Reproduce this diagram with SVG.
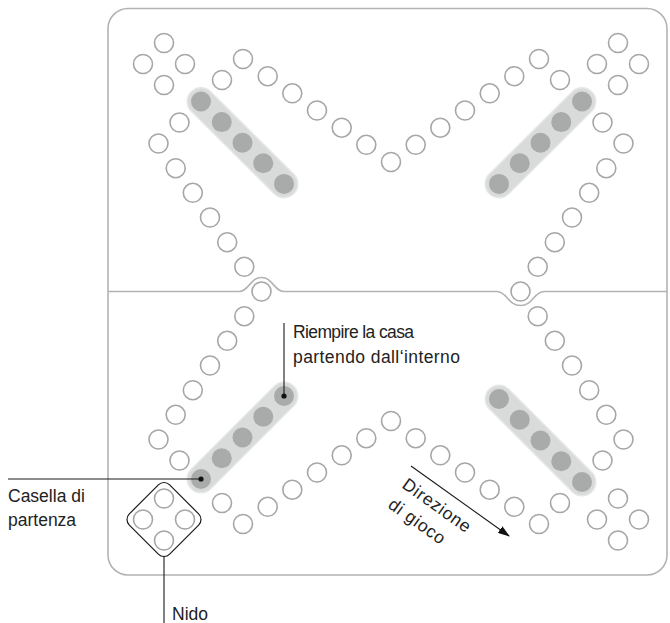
<svg xmlns="http://www.w3.org/2000/svg" width="670" height="623" viewBox="0 0 670 623">
  <style>
    .board { fill: #fff; stroke: #b3b3b3; stroke-width: 1.6; }
    .divider { fill: none; stroke: #b3b3b3; stroke-width: 1.6; }
    .hole { fill: #fff; stroke: #a6a6a6; stroke-width: 1.6; }
    .home-bg-edge { stroke: #e6e7e7; stroke-width: 29; stroke-linecap: round; }
    .home-bg { stroke: #d9dada; stroke-width: 26; stroke-linecap: round; }
    .home { fill: #a9aaaa; }
    .nest-frame { fill: none; stroke: #1a1a1a; stroke-width: 1.2; }
    .leader { fill: none; stroke: #1a1a1a; stroke-width: 1.1; }
    .dot { fill: #111; }
    .label { font-family: "Liberation Sans", Arial, sans-serif; font-size: 17.5px; fill: #222; }
    .turned { letter-spacing: 0.7px; }
  </style>
  <defs>
    <marker id="arrowhead" markerUnits="userSpaceOnUse" markerWidth="12" markerHeight="8" refX="11" refY="4" orient="auto">
      <path d="M0,0 L12,4 L0,8 z" fill="#111"/>
    </marker>
  </defs>

  <!-- board outline and the fold line with its two bumps -->
  <g id="board">
    <rect class="board" x="108" y="8.5" width="559" height="566.5" rx="20"/>
    <path class="divider" d="M108,291.5 H239 C249,291.5 250,277.5 261.5,277.5 C273,277.5 274,291.5 284,291.5 H497 C507,291.5 508,305.5 520.5,305.5 C533,305.5 534,291.5 544,291.5 H667"/>
  </g>

  <!-- home rows (filled from the inside) -->
  <g id="home-top-left">
    <line class="home-bg-edge" x1="201" y1="101.5" x2="284" y2="183.9"/>
    <line class="home-bg" x1="201" y1="101.5" x2="284" y2="183.9"/>
    <circle class="home" cx="201" cy="101.5" r="10"/>
    <circle class="home" cx="221.75" cy="122.1" r="10"/>
    <circle class="home" cx="242.5" cy="142.7" r="10"/>
    <circle class="home" cx="263.25" cy="163.3" r="10"/>
    <circle class="home" cx="284" cy="183.9" r="10"/>
  </g>
  <g id="home-top-right">
    <line class="home-bg-edge" x1="582" y1="101.5" x2="499" y2="183.9"/>
    <line class="home-bg" x1="582" y1="101.5" x2="499" y2="183.9"/>
    <circle class="home" cx="582" cy="101.5" r="10"/>
    <circle class="home" cx="561.25" cy="122.1" r="10"/>
    <circle class="home" cx="540.5" cy="142.7" r="10"/>
    <circle class="home" cx="519.75" cy="163.3" r="10"/>
    <circle class="home" cx="499" cy="183.9" r="10"/>
  </g>
  <g id="home-bottom-right">
    <line class="home-bg-edge" x1="499" y1="399" x2="582" y2="482"/>
    <line class="home-bg" x1="499" y1="399" x2="582" y2="482"/>
    <circle class="home" cx="499" cy="399" r="10"/>
    <circle class="home" cx="519.75" cy="419.75" r="10"/>
    <circle class="home" cx="540.5" cy="440.5" r="10"/>
    <circle class="home" cx="561.25" cy="461.25" r="10"/>
    <circle class="home" cx="582" cy="482" r="10"/>
  </g>
  <g id="home-bottom-left">
    <line class="home-bg-edge" x1="284" y1="396" x2="201" y2="479"/>
    <line class="home-bg" x1="284" y1="396" x2="201" y2="479"/>
    <circle class="home" cx="284" cy="396" r="10"/>
    <circle class="home" cx="263.25" cy="416.75" r="10"/>
    <circle class="home" cx="242.5" cy="437.5" r="10"/>
    <circle class="home" cx="221.75" cy="458.25" r="10"/>
    <circle class="home" cx="201" cy="479" r="10"/>
  </g>

  <!-- nests -->
  <g id="nest-top-left">
    <circle class="hole" cx="164" cy="43" r="9.5"/>
    <circle class="hole" cx="143" cy="64" r="9.5"/>
    <circle class="hole" cx="185" cy="64" r="9.5"/>
    <circle class="hole" cx="164" cy="85" r="9.5"/>
  </g>
  <g id="nest-top-right">
    <circle class="hole" cx="618" cy="43" r="9.5"/>
    <circle class="hole" cx="597" cy="64" r="9.5"/>
    <circle class="hole" cx="639" cy="64" r="9.5"/>
    <circle class="hole" cx="618" cy="85" r="9.5"/>
  </g>
  <g id="nest-bottom-left">
    <rect class="nest-frame" x="-28.5" y="-28.5" width="57" height="57" rx="8" transform="translate(164,519.5) rotate(45)"/>
    <circle class="hole" cx="164" cy="498.5" r="9.5"/>
    <circle class="hole" cx="143" cy="519.5" r="9.5"/>
    <circle class="hole" cx="185" cy="519.5" r="9.5"/>
    <circle class="hole" cx="164" cy="540.5" r="9.5"/>
  </g>
  <g id="nest-bottom-right">
    <circle class="hole" cx="618" cy="498.5" r="9.5"/>
    <circle class="hole" cx="597" cy="519.5" r="9.5"/>
    <circle class="hole" cx="639" cy="519.5" r="9.5"/>
    <circle class="hole" cx="618" cy="540.5" r="9.5"/>
  </g>

  <!-- running track -->
  <g id="track">
    <!-- top edge -->
    <circle class="hole" cx="222" cy="80" r="9.5"/>
    <circle class="hole" cx="243" cy="59" r="9.5"/>
    <circle class="hole" cx="267.7" cy="76.2" r="9.5"/>
    <circle class="hole" cx="292.3" cy="93.3" r="9.5"/>
    <circle class="hole" cx="317" cy="110.5" r="9.5"/>
    <circle class="hole" cx="341.7" cy="127.7" r="9.5"/>
    <circle class="hole" cx="366.3" cy="144.8" r="9.5"/>
    <circle class="hole" cx="391" cy="162" r="9.5"/>
    <circle class="hole" cx="415.7" cy="144.8" r="9.5"/>
    <circle class="hole" cx="440.3" cy="127.7" r="9.5"/>
    <circle class="hole" cx="465" cy="110.5" r="9.5"/>
    <circle class="hole" cx="489.7" cy="93.3" r="9.5"/>
    <circle class="hole" cx="514.3" cy="76.2" r="9.5"/>
    <circle class="hole" cx="539" cy="59" r="9.5"/>
    <circle class="hole" cx="560" cy="80" r="9.5"/>
    <!-- right edge -->
    <circle class="hole" cx="602.5" cy="122.5" r="9.5"/>
    <circle class="hole" cx="623.5" cy="143.5" r="9.5"/>
    <circle class="hole" cx="606.3" cy="168.2" r="9.5"/>
    <circle class="hole" cx="589.2" cy="192.8" r="9.5"/>
    <circle class="hole" cx="572" cy="217.5" r="9.5"/>
    <circle class="hole" cx="554.8" cy="242.2" r="9.5"/>
    <circle class="hole" cx="537.7" cy="266.8" r="9.5"/>
    <circle class="hole" cx="520.5" cy="291.5" r="9.5"/>
    <circle class="hole" cx="537.7" cy="316.2" r="9.5"/>
    <circle class="hole" cx="554.8" cy="340.8" r="9.5"/>
    <circle class="hole" cx="572" cy="365.5" r="9.5"/>
    <circle class="hole" cx="589.2" cy="390.2" r="9.5"/>
    <circle class="hole" cx="606.3" cy="414.8" r="9.5"/>
    <circle class="hole" cx="623.5" cy="439.5" r="9.5"/>
    <circle class="hole" cx="602.5" cy="460.5" r="9.5"/>
    <!-- bottom edge -->
    <circle class="hole" cx="560" cy="503" r="9.5"/>
    <circle class="hole" cx="539" cy="524" r="9.5"/>
    <circle class="hole" cx="514.3" cy="506.8" r="9.5"/>
    <circle class="hole" cx="489.7" cy="489.7" r="9.5"/>
    <circle class="hole" cx="465" cy="472.5" r="9.5"/>
    <circle class="hole" cx="440.3" cy="455.3" r="9.5"/>
    <circle class="hole" cx="415.7" cy="438.2" r="9.5"/>
    <circle class="hole" cx="391" cy="421" r="9.5"/>
    <circle class="hole" cx="366.3" cy="438.2" r="9.5"/>
    <circle class="hole" cx="341.7" cy="455.3" r="9.5"/>
    <circle class="hole" cx="317" cy="472.5" r="9.5"/>
    <circle class="hole" cx="292.3" cy="489.7" r="9.5"/>
    <circle class="hole" cx="267.7" cy="506.8" r="9.5"/>
    <circle class="hole" cx="243" cy="524" r="9.5"/>
    <circle class="hole" cx="222" cy="503" r="9.5"/>
    <!-- left edge -->
    <circle class="hole" cx="179.5" cy="460.5" r="9.5"/>
    <circle class="hole" cx="158.5" cy="439.5" r="9.5"/>
    <circle class="hole" cx="175.7" cy="414.8" r="9.5"/>
    <circle class="hole" cx="192.8" cy="390.2" r="9.5"/>
    <circle class="hole" cx="210" cy="365.5" r="9.5"/>
    <circle class="hole" cx="227.2" cy="340.8" r="9.5"/>
    <circle class="hole" cx="244.3" cy="316.2" r="9.5"/>
    <circle class="hole" cx="261.5" cy="291.5" r="9.5"/>
    <circle class="hole" cx="244.3" cy="266.8" r="9.5"/>
    <circle class="hole" cx="227.2" cy="242.2" r="9.5"/>
    <circle class="hole" cx="210" cy="217.5" r="9.5"/>
    <circle class="hole" cx="192.8" cy="192.8" r="9.5"/>
    <circle class="hole" cx="175.7" cy="168.2" r="9.5"/>
    <circle class="hole" cx="158.5" cy="143.5" r="9.5"/>
    <circle class="hole" cx="179.5" cy="122.5" r="9.5"/>
  </g>

  <!-- leader lines and the play-direction arrow -->
  <g id="connectors">
    <line class="leader" x1="284" y1="323" x2="284" y2="396"/>
    <circle class="dot" cx="284" cy="396" r="2.6"/>
    <line class="leader" x1="8" y1="479" x2="201" y2="479"/>
    <circle class="dot" cx="201" cy="479" r="2.6"/>
    <line class="leader" x1="164" y1="556" x2="164" y2="623"/>
    <line class="leader" x1="411" y1="466" x2="509" y2="536" marker-end="url(#arrowhead)"/>
  </g>

  <!-- labels -->
  <g id="label-fill-home">
    <text class="label" x="293" y="338" textLength="121" lengthAdjust="spacing">Riempire la casa</text>
    <text class="label" x="293" y="363" textLength="167" lengthAdjust="spacing">partendo dall‘interno</text>
  </g>
  <g id="label-start">
    <text class="label" x="8" y="502">Casella di</text>
    <text class="label" x="8" y="526">partenza</text>
  </g>
  <g id="label-nest">
    <text class="label" x="172" y="620">Nido</text>
  </g>
  <g id="label-direction">
    <text class="label turned" transform="translate(401,487) rotate(35.5)">Direzione</text>
    <text class="label turned" transform="translate(387,507) rotate(35.5)">di gioco</text>
  </g>
</svg>
